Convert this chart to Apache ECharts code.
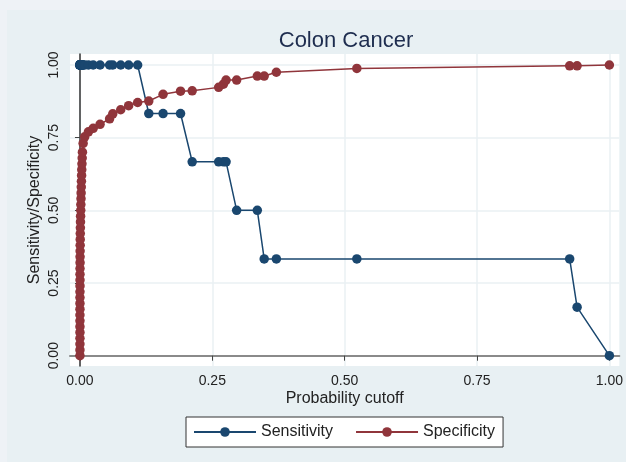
<!DOCTYPE html>
<html>
<head>
<meta charset="utf-8">
<script src="https://cdn.jsdelivr.net/npm/echarts@6/dist/echarts.min.js"></script>
<style>
  html, body { margin: 0; padding: 0; background: #eef2f6; }
  #wrap { position: relative; width: 626px; height: 462px; background: #eef2f6; overflow: hidden; }
  #panel { position: absolute; left: 7px; top: 10px; right: 0; bottom: 0; background: #e8f0f3; }
  #chart { position: absolute; left: 0; top: 0; width: 626px; height: 462px; }
</style>
</head>
<body>
<div id="wrap"><div id="panel"></div><div id="chart"></div></div>
<script>
// Probability cutoffs (shared x values)
const cutoff = [
  0, 0, 0, 0, 0, 0, 0, 0, 0, 0, 0, 0,
  0.0001, 0.0001, 0.0001, 0.0001, 0.0002, 0.0002, 0.0003, 0.0004, 0.0005, 0.0006,
  0.0008, 0.001, 0.0012, 0.0015, 0.0017, 0.002, 0.0022, 0.0025, 0.0028, 0.0031,
  0.0034, 0.0038, 0.0042, 0.0047, 0.006, 0.009, 0.016, 0.025, 0.038,
  0.056, 0.062, 0.077, 0.092, 0.109, 0.130, 0.157, 0.190, 0.212, 0.262, 0.271,
  0.276, 0.296, 0.335, 0.348, 0.371, 0.523, 0.925, 0.939, 1.0
];
const sensitivity = [
  1, 1, 1, 1, 1, 1, 1, 1, 1, 1, 1, 1,
  1, 1, 1, 1, 1, 1, 1, 1, 1, 1,
  1, 1, 1, 1, 1, 1, 1, 1, 1, 1,
  1, 1, 1, 1, 1, 1, 1, 1, 1,
  1, 1, 1, 1, 1, 0.833, 0.833, 0.833, 0.667, 0.667, 0.667,
  0.667, 0.5, 0.5, 0.333, 0.333, 0.333, 0.333, 0.167, 0
];
const specificity = [
  0, 0.02, 0.04, 0.06, 0.08, 0.10, 0.12, 0.14, 0.16, 0.18, 0.20, 0.22,
  0.24, 0.26, 0.28, 0.30, 0.32, 0.34, 0.36, 0.38, 0.40, 0.42,
  0.44, 0.46, 0.48, 0.50, 0.52, 0.54, 0.56, 0.58, 0.60, 0.62,
  0.64, 0.66, 0.68, 0.70, 0.73, 0.753, 0.77, 0.782, 0.796,
  0.815, 0.832, 0.846, 0.860, 0.871, 0.876, 0.899, 0.910, 0.911, 0.923, 0.934,
  0.948, 0.948, 0.962, 0.962, 0.975, 0.988, 0.997, 0.997, 1.0
];
const xTicks = [0, 0.25, 0.5, 0.75, 1];
const yTicks = [0, 0.25, 0.5, 0.75, 1];

const FONT = '"Liberation Sans", Arial, Helvetica, sans-serif';
const BLUE = '#1a476f';
const RED = '#90353b';
const GRID = '#eaf1f3';

const sensData = cutoff.map((x, i) => [x, sensitivity[i]]);
const specData = cutoff.map((x, i) => [x, specificity[i]]);

const chart = echarts.init(document.getElementById('chart'), null, { renderer: 'canvas' });
chart.setOption({
  animation: false,
  backgroundColor: 'transparent',
  textStyle: { fontFamily: FONT },
  title: {
    text: 'Colon Cancer',
    left: 346, top: 30, textAlign: 'center', padding: 0,
    textStyle: { fontFamily: FONT, fontSize: 22, fontWeight: 'normal', color: '#1e2d4f' }
  },
  grid: {
    left: 70, top: 54, right: 4, bottom: 96,
    show: true, backgroundColor: '#ffffff', borderWidth: 0
  },
  legend: {
    left: 186, top: 417,
    padding: [7, 8, 7, 7],
    backgroundColor: '#ffffff',
    borderColor: '#333333', borderWidth: 1, borderRadius: 0,
    itemWidth: 62, itemHeight: 12, itemGap: 22,
    textStyle: { fontFamily: FONT, fontSize: 16, color: '#222222' },
    data: ['Sensitivity', 'Specificity']
  },
  xAxis: {
    type: 'value', min: -0.0188, max: 1.0188,
    name: 'Probability cutoff', nameLocation: 'middle', nameGap: 25, nameMoveOverlap: false,
    nameTextStyle: { fontFamily: FONT, fontSize: 16, color: '#222222' },
    axisLine: { show: true, lineStyle: { color: '#8a8a8a', width: 2 } },
    axisTick: { show: true, customValues: xTicks, length: 5, lineStyle: { color: '#444444', width: 1 } },
    axisLabel: { customValues: xTicks, margin: 8, fontFamily: FONT, fontSize: 14, color: '#222222',
      formatter: v => v.toFixed(2) },
    splitLine: { show: false }
  },
  yAxis: {
    type: 'value', min: -0.0354, max: 1.0378,
    name: 'Sensitivity/Specificity', nameLocation: 'middle', nameGap: 27, nameMoveOverlap: false,
    nameTextStyle: { fontFamily: FONT, fontSize: 16, color: '#222222' },
    axisLine: { show: true, lineStyle: { color: '#333333', width: 1.5 } },
    axisTick: { show: true, customValues: yTicks, length: 5, lineStyle: { color: '#444444', width: 1 } },
    axisLabel: { customValues: yTicks, rotate: 90, margin: 9, fontFamily: FONT, fontSize: 14, color: '#222222',
      formatter: v => v.toFixed(2) },
    splitLine: { show: false }
  },
  series: [
    {
      name: 'gridlines', type: 'line', data: [], silent: true, z: 0,
      markLine: {
        z: 0, silent: true, symbol: 'none', animation: false, label: { show: false },
        emphasis: { disabled: true },
        lineStyle: { color: GRID, width: 1.5, type: 'solid' },
        data: xTicks.map(v => ({ xAxis: v })).concat(yTicks.map(v => ({ yAxis: v })))
      }
    },
    {
      name: 'Sensitivity', type: 'line', data: sensData, z: 3,
      symbol: 'circle', symbolSize: 9.5, showSymbol: true,
      itemStyle: { color: BLUE }, lineStyle: { color: BLUE, width: 1.5 }
    },
    {
      name: 'Specificity', type: 'line', data: specData, z: 4,
      symbol: 'circle', symbolSize: 9.5, showSymbol: true,
      itemStyle: { color: RED }, lineStyle: { color: RED, width: 1.5 }
    }
  ]
});
</script>
</body>
</html>
